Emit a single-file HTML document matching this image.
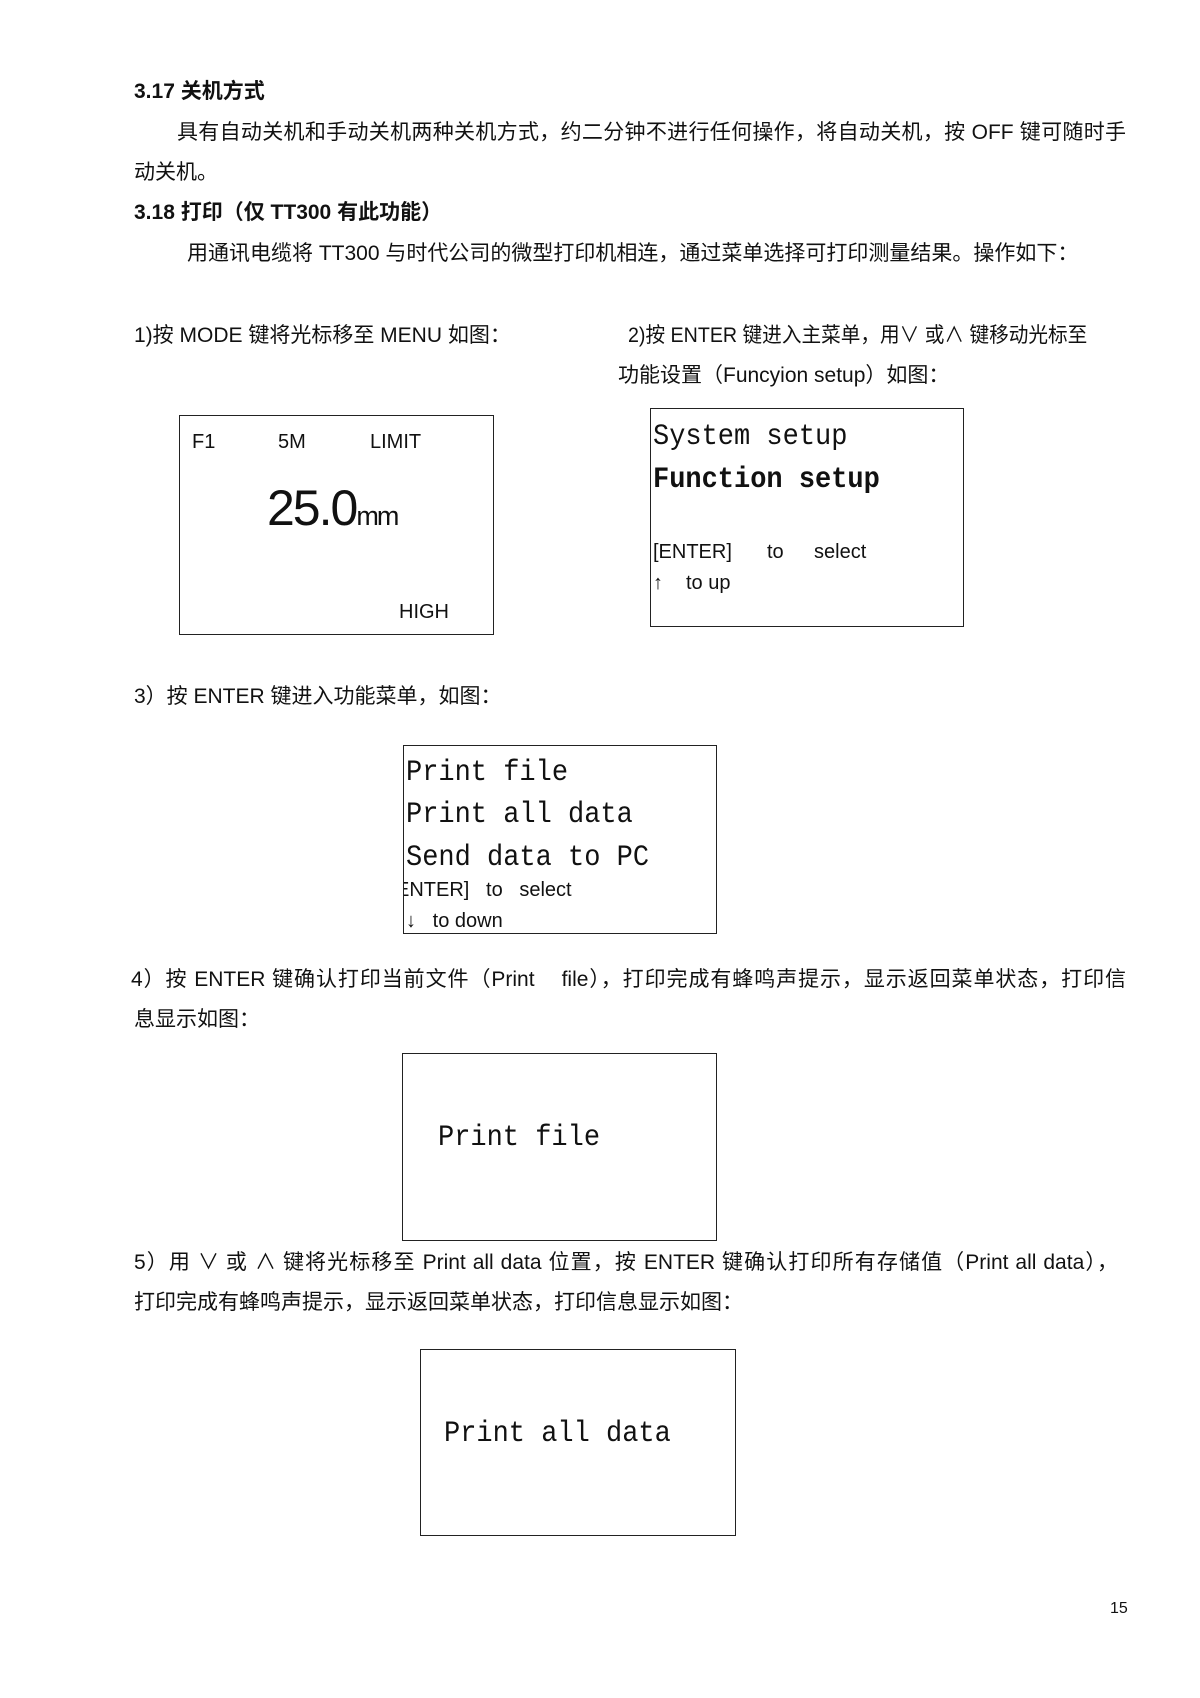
<!DOCTYPE html>
<html><head><meta charset="utf-8"><style>
body{margin:0;background:#fff;}
#p{position:relative;width:1200px;height:1698px;overflow:hidden;font-family:"Liberation Sans","Noto Sans CJK SC",sans-serif;color:#111;}
.t{position:absolute;white-space:nowrap;font-size:21px;line-height:24px;}
.j{text-align:justify;text-align-last:justify;}
.b{position:absolute;border:1.5px solid #222;box-sizing:border-box;}
.m{position:absolute;white-space:nowrap;font-family:"Liberation Mono","DejaVu Sans Mono",monospace;font-size:30px;line-height:34px;transform:scaleX(0.9);transform-origin:0 0;}
.s{position:absolute;white-space:nowrap;font-size:20px;line-height:24px;}
</style></head><body><div id="p">
<div class="t" style="left:134px;top:80px;font-weight:bold">3.17 关机方式</div>
<div class="t j" style="left:177px;top:121px;width:949px">具有自动关机和手动关机两种关机方式，约二分钟不进行任何操作，将自动关机，按 OFF 键可随时手</div>
<div class="t" style="left:134px;top:161px">动关机。</div>
<div class="t" style="left:134px;top:201px;font-weight:bold">3.18 打印（仅 TT300 有此功能）</div>
<div class="t j" style="left:187px;top:242px;width:891px">用通讯电缆将 TT300 与时代公司的微型打印机相连，通过菜单选择可打印测量结果。操作如下：</div>
<div class="t" style="left:134px;top:324px">1)按 MODE 键将光标移至 MENU 如图：</div>
<div class="t j" style="left:628px;top:324px;width:461px;transform:scaleX(0.935);transform-origin:0 0">2)按 ENTER 键进入主菜单，用∨ 或∧ 键移动光标至</div>
<div class="t" style="left:618px;top:364px">功能设置（Funcyion setup）如图：</div>

<div class="b" style="left:179px;top:415px;width:315px;height:220px"></div>
<div class="s" style="left:192px;top:430px">F1</div>
<div class="s" style="left:278px;top:430px">5M</div>
<div class="s" style="left:370px;top:430px">LIMIT</div>
<div class="s" style="left:267px;top:480px;font-size:50px;line-height:56px;letter-spacing:-2px">25.0<span style="font-size:27px">mm</span></div>
<div class="s" style="left:399px;top:600px">HIGH</div>

<div class="b" style="left:650px;top:408px;width:314px;height:219px"></div>
<div class="m" style="left:653px;top:420px">System  setup</div>
<div class="m" style="left:653px;top:463px;font-weight:bold">Function  setup</div>
<div class="s" style="left:653px;top:540px">[ENTER]</div>
<div class="s" style="left:767px;top:540px">to</div>
<div class="s" style="left:814px;top:540px">select</div>
<div class="s" style="left:653px;top:571px">↑</div>
<div class="s" style="left:686px;top:571px">to up</div>

<div class="t" style="left:134px;top:685px">3）按 ENTER 键进入功能菜单，如图：</div>
<div class="b" style="left:403px;top:745px;width:314px;height:189px"></div>
<div class="m" style="left:406px;top:756px">Print file</div>
<div class="m" style="left:406px;top:798px">Print all data</div>
<div class="m" style="left:406px;top:841px">Send data to PC</div>
<div style="position:absolute;left:404px;top:878px;width:300px;height:24px;overflow:hidden"><div class="s" style="left:-8px;top:0">ENTER]&nbsp;&nbsp;&nbsp;to&nbsp;&nbsp;&nbsp;select</div></div>
<div class="s" style="left:406px;top:909px">↓&nbsp;&nbsp;&nbsp;to down</div>

<div class="t j" style="left:131px;top:968px;width:995px">4）按 ENTER 键确认打印当前文件（Print &nbsp;&nbsp; file），打印完成有蜂鸣声提示，显示返回菜单状态，打印信</div>
<div class="t" style="left:134px;top:1008px">息显示如图：</div>
<div class="b" style="left:402px;top:1053px;width:315px;height:188px"></div>
<div class="m" style="left:438px;top:1121px">Print  file</div>

<div class="t j" style="left:134px;top:1251px;width:984px">5）用 ∨ 或 ∧ 键将光标移至 Print all data 位置，按 ENTER 键确认打印所有存储值（Print all data），</div>
<div class="t" style="left:134px;top:1291px">打印完成有蜂鸣声提示，显示返回菜单状态，打印信息显示如图：</div>
<div class="b" style="left:420px;top:1349px;width:316px;height:187px"></div>
<div class="m" style="left:444px;top:1417px">Print all data</div>

<div class="t" style="left:1110px;top:1597px;font-size:16px">15</div>
</div></body></html>
